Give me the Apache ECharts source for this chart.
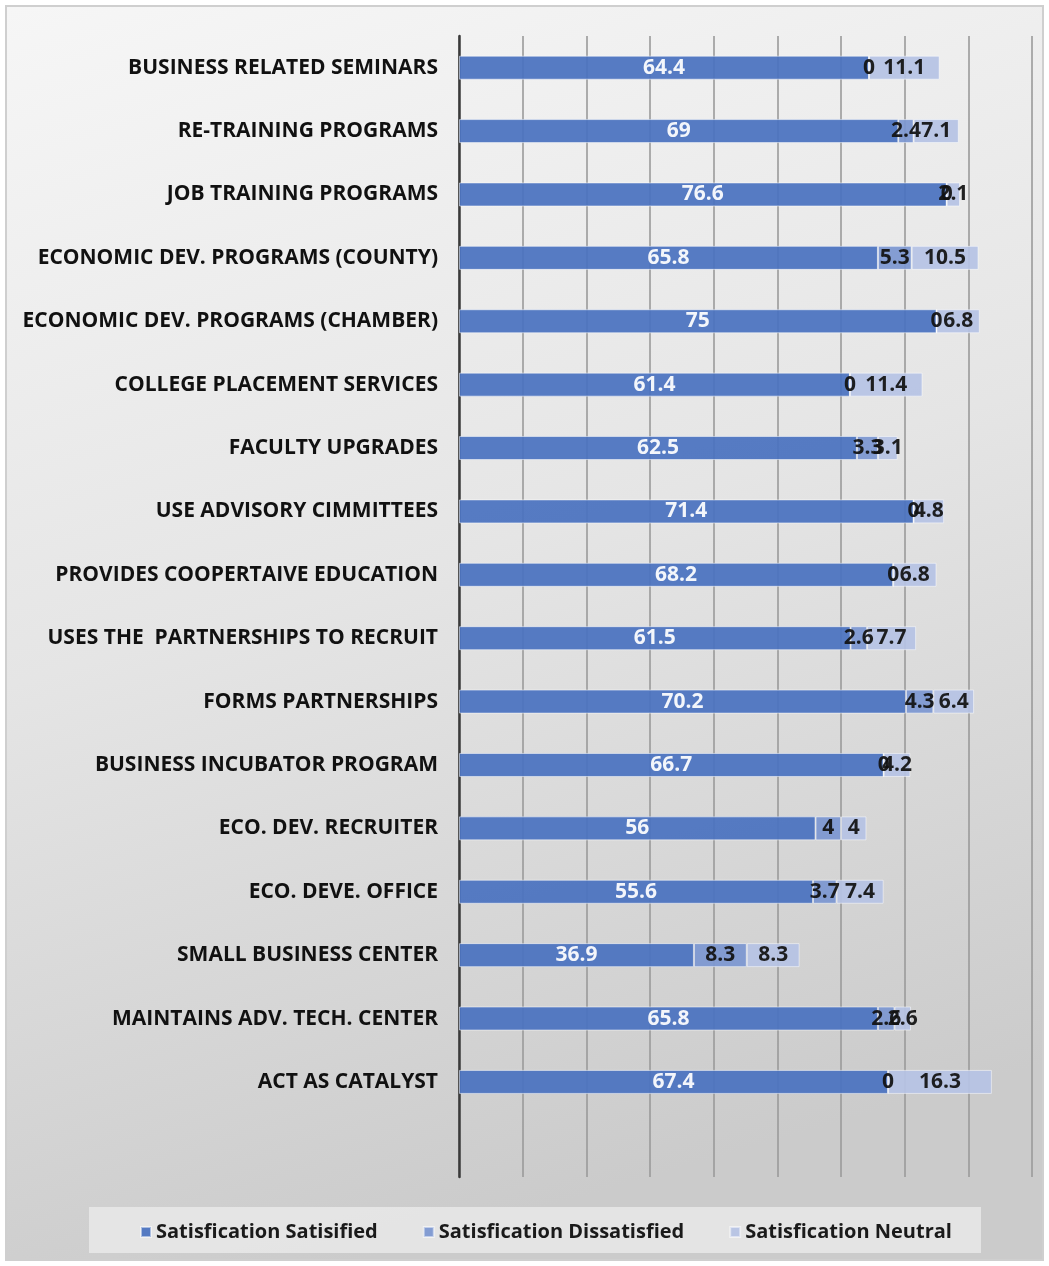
<!DOCTYPE html>
<html>
<head>
<meta charset="utf-8">
<script src="https://cdn.jsdelivr.net/npm/echarts@6/dist/echarts.min.js"></script>
<style>
  html, body { margin: 0; padding: 0; background: #ffffff; }
  #chart {
    position: absolute; left: 5px; top: 5px;
    width: 1039px; height: 1256px;
    box-sizing: border-box;
    border: 2px solid #cfcfcf;
  }
</style>
</head>
<body>
<div id="chart"></div>
<script>
// Survey items (top to bottom); the trailing blank keeps an empty row below the last bar
const categories = [
  'BUSINESS RELATED SEMINARS',
  'RE-TRAINING PROGRAMS',
  'JOB TRAINING PROGRAMS',
  'ECONOMIC DEV. PROGRAMS (COUNTY)',
  'ECONOMIC DEV. PROGRAMS (CHAMBER)',
  'COLLEGE PLACEMENT SERVICES',
  'FACULTY UPGRADES',
  'USE ADVISORY CIMMITTEES',
  'PROVIDES COOPERTAIVE EDUCATION',
  'USES THE  PARTNERSHIPS TO RECRUIT',
  'FORMS PARTNERSHIPS',
  'BUSINESS INCUBATOR PROGRAM',
  'ECO. DEV. RECRUITER',
  'ECO. DEVE. OFFICE',
  'SMALL BUSINESS CENTER',
  'MAINTAINS ADV. TECH. CENTER',
  'ACT AS CATALYST',
  ''
];

const satisfied    = [64.4, 69, 76.6, 65.8, 75, 61.4, 62.5, 71.4, 68.2, 61.5, 70.2, 66.7, 56, 55.6, 36.9, 65.8, 67.4, null];
const dissatisfied = [0, 2.4, 0, 5.3, 0, 0, 3.3, 0, 0, 2.6, 4.3, 0, 4, 3.7, 8.3, 2.6, 0, null];
const neutral      = [11.1, 7.1, 2.1, 10.5, 6.8, 11.4, 3.1, 4.8, 6.8, 7.7, 6.4, 4.2, 4, 7.4, 8.3, 2.6, 16.3, null];

const seriesNames = ['Satisfication Satisified', 'Satisfication Dissatisfied', 'Satisfication Neutral'];
const seriesColors = ['#4a72c0', '#7c97d1', '#b6c3e4'];

const FONT = '"Open Sans", "Noto Sans", sans-serif';

const chart = echarts.init(document.getElementById('chart'), null, { renderer: 'canvas' });

function barSeries(name, data, color, labelColor) {
  return {
    name: name,
    type: 'bar',
    stack: 'total',
    data: data,
    barWidth: 24,
    itemStyle: {
      color: color,
      opacity: 0.93,
      borderColor: 'rgba(255,255,255,0.55)',
      borderWidth: 1
    },
    label: {
      show: true,
      position: 'inside',
      color: labelColor,
      fontFamily: FONT,
      fontWeight: 'bold',
      fontSize: 21
    }
  };
}

chart.setOption({
  backgroundColor: {
    type: 'linear', x: 0, y: 0, x2: 0.35, y2: 1,
    colorStops: [
      { offset: 0, color: '#f6f6f6' },
      { offset: 0.5, color: '#e5e5e5' },
      { offset: 1, color: '#cbcbcb' }
    ]
  },
  animation: false,
  graphic: [{
    type: 'rect',
    left: 82, top: 1200,
    shape: { width: 892, height: 46 },
    style: { fill: 'rgba(236,236,236,0.75)' },
    z: 0
  }],
  legend: {
    data: seriesNames,
    bottom: 12,
    left: 128,
    itemWidth: 10,
    itemHeight: 10,
    itemGap: 45,
    icon: 'rect',
    textStyle: { fontFamily: FONT, fontSize: 20, color: '#1a1a1a', fontWeight: 'bold' }
  },
  grid: { left: 452, right: 10, top: 29, bottom: 82, containLabel: false },
  xAxis: {
    type: 'value',
    min: 0, max: 90, interval: 10,
    axisLabel: { show: false },
    axisLine: { show: false },
    axisTick: { show: false },
    splitLine: { show: true, lineStyle: { color: '#9a9a9a', width: 1.6 } }
  },
  yAxis: {
    type: 'category',
    data: categories,
    inverse: true,
    axisTick: { show: false },
    axisLine: { show: true, lineStyle: { color: '#3a3a3a', width: 2.5 } },
    axisLabel: {
      fontFamily: FONT, fontWeight: 'bold', fontSize: 21, color: '#111111', margin: 21
    }
  },
  series: [
    barSeries(seriesNames[0], satisfied, seriesColors[0], '#ffffff'),
    barSeries(seriesNames[1], dissatisfied, seriesColors[1], '#111111'),
    barSeries(seriesNames[2], neutral, seriesColors[2], '#111111')
  ]
});
</script>
</body>
</html>
